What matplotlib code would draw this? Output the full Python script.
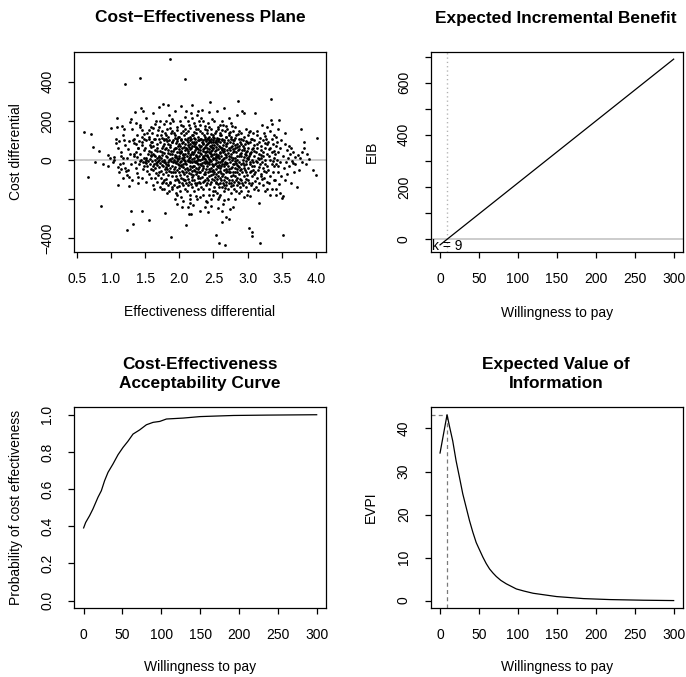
import matplotlib
matplotlib.use("Agg")
import matplotlib.pyplot as plt
import numpy as np

plt.rcParams['font.family'] = ['Liberation Sans', 'DejaVu Sans']

# Simulated (effectiveness, cost) differentials for the cost-effectiveness plane
ce_samples = [
    (0.60, 141), (0.67, -87), (0.71, 133), (0.74, 68), (0.76, -9), (0.83, 46), (0.86, -233), (0.89, -20), (0.95, 26), (0.96, -29), (0.98, 8),
    (1.00, 165), (1.03, -12), (1.05, -2), (1.08, 110), (1.09, 213), (1.09, 170), (1.10, -128), (1.07, 88), (1.04, 15), (1.10, -35),
    (1.11, 62), (1.12, 95), (1.13, -20), (1.14, 20), (1.15, -48), (1.16, 174), (1.17, 8), (1.18, -15), (1.18, 130), (1.19, 102), (1.12, -62), (1.14, 40), (1.17, -92), (1.19, 160),
    (1.20, 391), (1.21, 75), (1.22, -55), (1.23, -75), (1.24, -357), (1.25, -50), (1.26, -88), (1.27, -132), (1.28, 192), (1.28, 30), (1.29, 210), (1.21, -40), (1.23, 10), (1.25, 55), (1.27, 96), (1.29, -22),
    (1.30, -259), (1.31, -100), (1.32, -325), (1.32, 100), (1.33, 30), (1.34, 110), (1.35, 245), (1.35, -8), (1.36, 40), (1.36, 190), (1.37, 80), (1.37, -40), (1.38, 130), (1.38, 15), (1.39, 60), (1.39, -120), (1.31, 160), (1.33, 85), (1.34, 20), (1.38, -65),
    (1.40, 60), (1.40, -85), (1.41, 95), (1.41, -20), (1.42, 30), (1.42, -5), (1.43, 419), (1.43, 170), (1.44, 265), (1.44, 0), (1.45, -259), (1.45, -90), (1.45, 120), (1.46, 155), (1.46, 75), (1.47, 250), (1.47, -45), (1.48, 110), (1.48, 135), (1.48, 10), (1.49, 50), (1.49, -30), (1.43, 180), (1.46, 90), (1.47, -12),
    (1.50, 60), (1.50, -10), (1.51, -110), (1.51, 10), (1.52, 215), (1.52, 100), (1.53, -30), (1.53, 140), (1.54, -5), (1.54, 30), (1.55, -70), (1.55, 45), (1.56, -306), (1.56, 120), (1.57, 75), (1.57, -20), (1.57, 5), (1.58, 170), (1.58, -45), (1.58, 90), (1.59, 40), (1.59, -92), (1.59, 25), (1.55, 110), (1.52, -15), (1.56, 155), (1.58, 65), (1.53, -58), (1.51, 0), (1.59, 20),
    (1.60, 140), (1.60, -5), (1.60, 90), (1.61, 30), (1.61, -50), (1.62, -130), (1.62, 70), (1.62, 165), (1.63, -20), (1.63, 110), (1.63, 25), (1.64, -40), (1.64, 0), (1.64, 185), (1.65, 50), (1.65, -90), (1.65, 105), (1.66, -15), (1.66, 200), (1.66, -65), (1.67, 10), (1.67, 80), (1.67, -110), (1.68, 130), (1.68, -25), (1.68, 45), (1.69, 155), (1.69, -5), (1.69, -75), (1.61, 240), (1.63, -150), (1.65, 18), (1.67, 62), (1.68, -8), (1.62, -30),
    (1.70, -60), (1.70, 105), (1.70, 170), (1.71, 270), (1.71, -35), (1.71, 20), (1.72, 90), (1.72, -15), (1.72, -140), (1.73, 10), (1.73, 130), (1.73, -90), (1.74, 40), (1.74, -120), (1.74, 60), (1.75, 150), (1.75, -5), (1.75, -150), (1.76, 285), (1.76, 70), (1.76, -30), (1.77, -100), (1.77, 110), (1.77, 0), (1.78, -150), (1.78, -10), (1.78, 185), (1.79, -272), (1.79, 55), (1.79, -45),
    (1.71, -2), (1.72, 45), (1.73, -55), (1.74, 115), (1.75, 25), (1.76, -70), (1.77, 35), (1.78, 80), (1.79, 140), (1.70, 15), (1.72, 200), (1.74, -25), (1.76, -110), (1.78, 100), (1.79, -12),
    (1.80, 200), (1.80, 20), (1.80, -120), (1.81, -60), (1.81, 110), (1.81, -20), (1.82, 15), (1.82, 160), (1.82, -170), (1.83, -25), (1.83, 280), (1.83, 80), (1.84, -75), (1.84, 50), (1.84, 120), (1.85, -160), (1.85, 0), (1.85, 230), (1.86, -40), (1.86, 190), (1.86, 65), (1.87, 516), (1.87, -110), (1.87, 30), (1.88, -395), (1.88, -5), (1.88, 140), (1.89, 90), (1.89, -80), (1.89, -140),
    (1.80, 60), (1.81, -95), (1.82, -45), (1.83, 35), (1.84, -10), (1.85, 100), (1.86, -120), (1.87, 75), (1.88, 45), (1.89, 10), (1.81, 130), (1.83, -130), (1.85, -55), (1.86, 5), (1.87, 165), (1.88, -60), (1.89, 210), (1.84, -25), (1.82, 95), (1.80, -35),
    (1.90, 90), (1.90, -150), (1.90, 30), (1.91, 100), (1.91, -10), (1.91, -60), (1.92, 140), (1.92, -130), (1.92, 55), (1.93, -10), (1.93, 250), (1.93, -60), (1.94, 60), (1.94, 130), (1.94, -200), (1.95, -170), (1.95, 20), (1.95, 85), (1.96, 110), (1.96, 10), (1.96, -95), (1.97, -50), (1.97, 170), (1.97, 40), (1.98, -100), (1.98, 70), (1.98, -20), (1.99, 40), (1.99, 80), (1.99, -135),
    (1.90, -30), (1.91, 45), (1.92, 0), (1.93, 115), (1.94, -35), (1.95, -80), (1.96, 155), (1.97, -5), (1.98, 120), (1.99, -60), (1.91, 200), (1.93, 15), (1.95, 60), (1.97, 95), (1.99, -25), (1.92, -45), (1.94, 25), (1.96, -140), (1.98, 5), (1.90, 150), (1.93, -100), (1.95, -15), (1.97, -180), (1.99, 10), (1.96, -225),
    (2.00, -40), (2.00, 120), (2.00, 20), (2.01, -160), (2.01, 70), (2.01, -10), (2.02, 180), (2.02, 40), (2.02, -90), (2.03, -30), (2.03, 100), (2.03, 275), (2.04, -120), (2.04, 10), (2.04, 60), (2.05, 150), (2.05, -60), (2.05, -210), (2.06, 30), (2.06, -20), (2.06, 90), (2.07, -100), (2.07, 130), (2.07, 0), (2.08, 50), (2.08, -150), (2.08, 220), (2.085, 414), (2.09, -45), (2.09, 80),
    (2.00, 55), (2.01, -75), (2.02, 105), (2.03, -5), (2.04, -55), (2.05, 25), (2.06, -130), (2.07, 65), (2.08, -15), (2.09, 160), (2.00, -110), (2.01, 35), (2.02, -25), (2.03, 140), (2.04, 85), (2.05, -35), (2.06, 5), (2.07, -70), (2.08, 110), (2.09, -100), (2.01, 200), (2.03, 45), (2.05, -95), (2.07, 15), (2.09, 30), (2.02, -190), (2.04, -240), (2.06, 175), (2.08, -5), (2.10, -334),
    (2.10, 60), (2.10, -20), (2.10, 140), (2.11, -80), (2.11, 20), (2.11, 100), (2.12, -130), (2.12, 45), (2.12, -5), (2.13, 200), (2.13, -50), (2.13, 75), (2.14, -274), (2.14, 10), (2.14, -110), (2.15, 120), (2.15, -30), (2.15, -180), (2.16, 55), (2.16, -220), (2.16, 165), (2.17, -274), (2.17, 30), (2.17, -70), (2.18, 90), (2.18, 280), (2.18, -10), (2.19, -140), (2.19, 40), (2.19, 215),
    (2.10, -60), (2.11, -160), (2.12, 150), (2.13, 0), (2.14, 65), (2.15, 25), (2.16, -45), (2.17, 105), (2.18, -100), (2.19, 70), (2.10, -120), (2.11, 55), (2.12, 90), (2.13, -95), (2.14, 180), (2.15, -10), (2.16, 15), (2.17, -125), (2.18, 130), (2.19, -35), (2.11, -40), (2.13, 35), (2.15, 80), (2.17, 60), (2.19, 5), (2.12, -240), (2.14, -65), (2.16, -5), (2.18, -55), (2.10, 250), (2.13, 115), (2.15, -200), (2.17, 240), (2.19, -85), (2.16, 100),
    (2.20, -30), (2.20, 130), (2.20, 30), (2.21, -100), (2.21, 70), (2.21, 190), (2.22, -50), (2.22, 10), (2.22, -160), (2.23, 110), (2.23, -10), (2.23, 50), (2.24, -130), (2.24, 160), (2.24, -70), (2.25, 20), (2.25, 90), (2.25, -40), (2.26, -200), (2.26, 60), (2.26, 230), (2.27, -20), (2.27, 120), (2.27, -90), (2.28, 40), (2.28, -150), (2.28, 0), (2.29, 75), (2.29, -60), (2.29, 200),
    (2.20, 85), (2.21, -5), (2.22, 145), (2.23, -115), (2.24, 25), (2.25, -185), (2.26, -15), (2.27, 55), (2.28, 100), (2.29, -35), (2.20, -75), (2.21, 40), (2.22, -30), (2.23, 175), (2.24, -10), (2.25, 65), (2.26, -120), (2.27, 5), (2.28, -80), (2.29, 20), (2.21, 115), (2.23, -55), (2.25, 140), (2.27, -45), (2.29, -110), (2.22, 90), (2.24, 60), (2.26, 15), (2.28, 160), (2.20, -230), (2.23, 80), (2.25, -5), (2.27, 250), (2.29, 100), (2.26, -60),
    (2.30, -20), (2.30, 110), (2.30, 50), (2.31, -90), (2.31, 180), (2.31, 0), (2.32, 70), (2.32, -140), (2.32, 30), (2.33, -50), (2.33, 140), (2.33, 255), (2.34, -110), (2.34, 20), (2.34, 85), (2.35, -30), (2.35, 200), (2.35, -180), (2.36, 60), (2.36, -70), (2.36, 10), (2.37, 120), (2.37, -15), (2.37, -240), (2.38, 40), (2.38, -100), (2.38, 160), (2.39, -45), (2.39, 95), (2.39, -5),
    (2.30, -60), (2.31, 35), (2.32, -25), (2.33, 90), (2.34, -150), (2.35, 55), (2.36, 130), (2.37, 25), (2.38, -70), (2.39, 75), (2.30, 150), (2.31, -120), (2.32, 105), (2.33, 5), (2.34, -40), (2.35, 15), (2.36, -105), (2.37, 65), (2.38, 5), (2.39, -130), (2.31, 65), (2.33, -85), (2.35, 100), (2.37, -60), (2.39, 40), (2.30, -190), (2.32, 215), (2.34, 45), (2.36, -10), (2.38, 110), (2.31, -260), (2.33, -15), (2.35, 80), (2.37, 175), (2.39, -210),
    (2.40, 80), (2.40, -30), (2.40, 140), (2.41, -120), (2.41, 20), (2.41, 60), (2.42, -60), (2.42, 190), (2.42, -265), (2.43, 100), (2.43, -10), (2.43, 40), (2.44, -150), (2.44, 120), (2.44, -80), (2.45, 298), (2.45, 0), (2.45, 70), (2.46, -40), (2.46, 160), (2.46, -200), (2.47, 30), (2.47, -110), (2.47, 90), (2.48, -20), (2.48, 210), (2.48, 50), (2.49, -70), (2.49, 130), (2.49, 10),
    (2.40, -90), (2.41, 105), (2.42, 15), (2.43, -45), (2.44, 55), (2.45, -125), (2.46, 110), (2.47, -5), (2.48, 75), (2.49, -160), (2.40, 25), (2.41, -15), (2.42, 85), (2.43, 170), (2.44, 5), (2.45, -55), (2.46, 45), (2.47, 135), (2.48, -95), (2.49, 60), (2.40, 45), (2.42, -100), (2.44, -20), (2.46, 20), (2.48, -55),
    (2.41, 155), (2.43, -180), (2.45, 95), (2.47, 65), (2.49, -30), (2.40, -10), (2.42, 115), (2.44, 90), (2.46, -75), (2.48, 25), (2.41, -215), (2.43, 245), (2.45, 35), (2.47, -235), (2.49, 100),
    (2.50, 60), (2.50, -50), (2.50, 120), (2.51, -100), (2.51, 30), (2.51, 200), (2.52, -20), (2.52, 90), (2.52, -160), (2.53, -385), (2.53, 50), (2.53, -70), (2.54, 150), (2.54, 0), (2.54, -120), (2.55, 80), (2.55, -30), (2.55, 250), (2.56, -200), (2.56, 110), (2.56, 20), (2.57, -60), (2.57, 170), (2.57, -10), (2.58, -422), (2.58, 70), (2.58, -140), (2.59, 40), (2.59, -90), (2.59, 130),
    (2.50, 5), (2.51, -140), (2.52, 45), (2.53, 100), (2.54, -45), (2.55, 15), (2.56, -80), (2.57, 95), (2.58, -25), (2.59, 180), (2.50, -25), (2.51, 75), (2.52, 140), (2.53, -110), (2.54, 65), (2.55, -170), (2.56, 55), (2.57, 25), (2.58, 105), (2.59, -55), (2.50, 90), (2.52, -85), (2.54, 30), (2.56, -35), (2.58, 10),
    (2.51, -60), (2.53, 20), (2.55, 115), (2.57, -125), (2.59, 65), (2.50, -180), (2.52, 10), (2.54, 90), (2.56, 160), (2.58, -190), (2.51, 115), (2.53, -15), (2.55, -95), (2.57, -245), (2.59, -10),
    (2.60, 90), (2.60, -40), (2.60, -180), (2.61, 20), (2.61, 130), (2.61, -100), (2.62, -20), (2.62, 60), (2.62, -260), (2.63, -317), (2.63, 110), (2.63, 0), (2.64, -70), (2.64, 180), (2.64, 40), (2.65, 264), (2.65, -130), (2.65, 10), (2.66, -50), (2.66, 90), (2.66, -160), (2.67, -434), (2.67, 30), (2.67, 150), (2.68, -110), (2.68, 70), (2.68, -15), (2.69, -291), (2.69, 120), (2.69, -60),
    (2.60, 35), (2.61, -65), (2.62, 100), (2.63, -140), (2.64, 5), (2.65, 55), (2.66, -30), (2.67, -85), (2.68, 25), (2.69, 80), (2.60, -120), (2.61, 60), (2.62, -5), (2.63, 155), (2.64, -115), (2.65, -20), (2.66, 45), (2.67, -145), (2.68, 175), (2.69, 15),
    (2.60, 140), (2.62, -80), (2.64, 75), (2.66, -205), (2.68, -45), (2.61, -30), (2.63, 50), (2.65, 100), (2.67, -10), (2.69, -130), (2.62, 200), (2.64, -225), (2.66, -100), (2.68, 120), (2.69, -20),
    (2.70, 50), (2.70, -90), (2.70, 160), (2.71, -30), (2.71, 100), (2.71, -150), (2.72, -300), (2.72, 20), (2.72, -60), (2.73, 140), (2.73, -120), (2.73, 60), (2.74, -10), (2.74, -250), (2.74, 90), (2.75, -80), (2.75, 30), (2.75, 190), (2.76, -40), (2.76, 120), (2.76, -170), (2.77, 70), (2.77, -100), (2.77, 0), (2.78, 150), (2.78, -60), (2.78, -240), (2.79, 40), (2.79, -130), (2.79, 100),
    (2.70, -15), (2.71, 35), (2.72, 130), (2.73, -45), (2.74, 50), (2.75, -135), (2.76, 15), (2.77, 175), (2.78, -20), (2.79, -75), (2.70, 85), (2.72, -100), (2.74, -60), (2.76, 65), (2.78, 10), (2.71, -200), (2.73, 5), (2.75, 110), (2.77, -35), (2.79, 55), (2.70, -55), (2.72, 215), (2.74, 145), (2.76, -120), (2.78, 85),
    (2.80, -20), (2.80, 100), (2.80, -150), (2.81, 60), (2.81, -80), (2.81, 170), (2.82, -40), (2.82, 10), (2.82, -200), (2.83, 130), (2.83, -100), (2.83, 40), (2.84, -60), (2.84, 80), (2.84, -130), (2.85, 0), (2.85, 230), (2.85, -90), (2.86, 301), (2.86, 50), (2.86, -30), (2.87, -120), (2.87, 110), (2.87, 20), (2.88, -70), (2.88, -170), (2.88, 150), (2.89, 30), (2.89, -50), (2.89, 90),
    (2.80, 45), (2.81, -5), (2.82, 115), (2.83, -160), (2.84, 20), (2.85, 65), (2.86, -110), (2.87, -10), (2.88, 70), (2.89, -140), (2.80, -110), (2.82, 75), (2.84, -25), (2.86, 135), (2.88, -35), (2.81, -60), (2.83, -15), (2.85, -45), (2.87, 55), (2.89, -95),
    (2.90, 80), (2.90, -100), (2.90, -20), (2.91, 140), (2.91, 20), (2.91, -160), (2.92, 250), (2.92, -60), (2.92, 50), (2.93, -130), (2.93, 100), (2.93, 0), (2.94, 243), (2.94, -80), (2.94, 60), (2.95, -40), (2.95, -190), (2.95, 120), (2.96, 30), (2.96, -110), (2.96, 80), (2.97, -20), (2.97, -60), (2.97, 160), (2.98, 40), (2.98, -140), (2.98, -5), (2.99, 90), (2.99, -75), (2.99, 10),
    (2.90, 35), (2.91, -45), (2.92, -120), (2.93, 70), (2.94, -25), (2.95, 15), (2.96, -50), (2.97, 95), (2.98, -95), (2.99, -180), (2.91, 110), (2.93, -15), (2.95, 50), (2.97, 25), (2.99, 45),
    (3.00, 60), (3.00, -40), (3.01, 130), (3.01, -100), (3.02, -346), (3.02, 20), (3.03, -60), (3.03, 90), (3.04, 150), (3.04, -20), (3.05, -130), (3.05, 40), (3.06, 0), (3.06, -80), (3.07, -368), (3.07, -388), (3.07, 110), (3.08, -50), (3.08, 60), (3.09, -150), (3.09, 20),
    (3.00, 5), (3.01, 85), (3.02, -115), (3.03, -10), (3.04, -185), (3.05, 105), (3.06, 55), (3.07, -30), (3.08, 140), (3.09, -70), (3.00, -160), (3.02, 145), (3.04, 30), (3.06, -120), (3.08, -10), (3.01, 10), (3.03, 35), (3.05, -55), (3.09, 75),
    (3.10, -30), (3.10, 100), (3.11, 242), (3.11, -60), (3.12, 40), (3.12, -140), (3.13, -10), (3.13, 130), (3.14, -90), (3.14, 60), (3.15, 10), (3.15, -50), (3.16, -221), (3.16, 90), (3.17, -120), (3.17, 30), (3.18, -422), (3.18, -20), (3.19, 70), (3.19, -80),
    (3.10, 45), (3.12, -5), (3.14, 150), (3.16, -35), (3.18, 115), (3.11, -105), (3.13, 80), (3.15, -155), (3.17, 5), (3.19, 25),
    (3.20, 50), (3.20, -70), (3.21, 180), (3.21, -10), (3.22, -130), (3.22, 100), (3.23, 20), (3.23, -40), (3.24, 140), (3.24, -90), (3.25, 60), (3.25, -20), (3.26, -160), (3.26, 0), (3.27, 110), (3.27, -60), (3.28, 30), (3.28, -110), (3.29, 80), (3.29, -30),
    (3.20, 10), (3.22, 40), (3.24, -55), (3.26, 85), (3.28, 170), (3.21, -95), (3.25, 125), (3.29, -150),
    (3.30, 90), (3.30, -50), (3.31, 20), (3.31, -120), (3.32, 150), (3.32, 0), (3.33, -80), (3.33, 60), (3.34, 311), (3.34, 204), (3.35, -20), (3.35, 110), (3.36, -150), (3.36, 40), (3.37, -60), (3.37, 80), (3.38, 10), (3.38, -100), (3.39, 130), (3.39, -30),
    (3.31, 55), (3.33, -180), (3.35, 185), (3.37, -5), (3.39, 45),
    (3.40, 30), (3.40, -100), (3.41, 120), (3.41, -20), (3.42, 70), (3.42, -150), (3.43, 0), (3.43, 90), (3.44, -60), (3.44, 160), (3.45, 40), (3.45, -30), (3.46, -123), (3.46, 204), (3.47, -170), (3.47, 60), (3.48, -10), (3.49, 100), (3.49, -80), (3.41, -180),
    (3.50, -196), (3.51, -385), (3.52, -182), (3.52, 20), (3.53, -40), (3.54, 82), (3.55, 140), (3.56, -10), (3.57, 50), (3.58, -71), (3.59, 10), (3.55, -100),
    (3.60, 70), (3.61, -30), (3.62, 30), (3.63, -120), (3.64, 60), (3.65, -5), (3.66, -17), (3.67, 40), (3.68, -60), (3.69, 15),
    (3.70, -20), (3.72, -140), (3.73, 25), (3.75, -50), (3.76, 10), (3.78, 157), (3.79, 40),
    (3.80, -10), (3.82, 60), (3.83, 90), (3.85, -20), (3.87, 30), (3.90, 5), (3.95, -51), (4.00, -78), (4.01, 112),
]
delta_e = np.array([p[0] for p in ce_samples])
delta_c = np.array([p[1] for p in ce_samples])

# Expected incremental benefit (linear in willingness to pay)
eib_wtp = [0, 300]
eib_values = [-21.3, 690.0]
breakeven_k = 9

# Cost-effectiveness acceptability curve
ceac_wtp = [0, 2.6, 7.7, 12, 18.5, 22.8, 27, 31.4, 37.8, 44.3, 50.7, 57, 63.6, 72, 80.8, 89.4,
            98, 106.6, 128, 150, 171, 193, 236, 300]
ceac_prob = [0.391, 0.42, 0.457, 0.493, 0.556, 0.591, 0.645, 0.69, 0.735, 0.785, 0.824, 0.857,
             0.896, 0.918, 0.946, 0.959, 0.964, 0.977, 0.982, 0.99, 0.993, 0.996, 0.998, 1.0]

# Expected value of perfect information
evpi_wtp = [0, 9, 12, 16.3, 20.6, 25, 29.2, 33.5, 37.8, 42.1, 46.4, 49.4, 55, 59.3, 63.6, 68,
            72.2, 78, 85, 98, 108, 119.5, 149.6, 184, 218, 261, 300]
evpi_values = [34.3, 43.2, 40.6, 37.1, 32.5, 28.6, 24.8, 21.7, 18.6, 15.9, 13.5, 12.3, 10.1,
               8.6, 7.35, 6.4, 5.6, 4.7, 3.9, 2.7, 2.2, 1.7, 0.93, 0.46, 0.23, 0.08, 0.0]

W, H = 686, 677
fig = plt.figure(figsize=(W / 100, H / 100), dpi=100)

FS = 10
TITLE_FS = 12.4
LW = 0.9


def add_panel(left, top, right, bottom):
    ax = fig.add_axes([left / W, 1 - bottom / H, (right - left) / W, (bottom - top) / H])
    for s in ax.spines.values():
        s.set_linewidth(LW)
    ax.tick_params(direction='out', length=4.3, width=LW, pad=10, labelsize=FS,
                   top=False, right=False)
    return ax


def padded(lo, hi, frac=0.04):
    span = hi - lo
    return lo - frac * span, hi + frac * span


def fig_text(x, y, s, **kw):
    fig.text(x / W, 1 - y / H, s, ha='center', va='center', **kw)


def finish_yticks(ax):
    for lab in ax.get_yticklabels():
        lab.set_va('center')
        lab.set_rotation(90)


WTP_TICKS = [0, 50, 100, 150, 200, 250, 300]

# --- Cost-effectiveness plane ---
ax1 = add_panel(74.3, 51.7, 326, 252.3)
ax1.axhline(0, color='#bebebe', lw=1.1, zorder=1)
ax1.plot(delta_e, delta_c, 'o', ms=2.0, mew=0, color='black', zorder=2)
ax1.set_xlim(*padded(delta_e.min(), delta_e.max()))
ax1.set_ylim(*padded(delta_c.min(), delta_c.max()))
ax1.set_xticks([0.5, 1.0, 1.5, 2.0, 2.5, 3.0, 3.5, 4.0])
ax1.set_xticklabels(['0.5', '1.0', '1.5', '2.0', '2.5', '3.0', '3.5', '4.0'])
ax1.set_yticks([-400, -200, 0, 200, 400])
ax1.set_yticklabels(['\u2212400', '', '0', '200', '400'])
finish_yticks(ax1)
fig_text(200, 18, 'Cost\u2212Effectiveness Plane', fontsize=TITLE_FS, fontweight='bold')
fig_text(200, 312, 'Effectiveness differential', fontsize=FS)
fig_text(16, 152, 'Cost differential', fontsize=FS, rotation=90)

# --- Expected incremental benefit ---
ax2 = add_panel(430.7, 51.7, 683, 252.3)
ax2.set_xlim(*padded(min(eib_wtp), max(eib_wtp)))
ax2.set_ylim(*padded(min(eib_values), max(eib_values)))
ax2.axhline(0, color='#bebebe', lw=1.1, zorder=1)
ax2.axvline(breakeven_k, color='#b0b0b0', lw=1.0, ls=(0, (0.9, 2.2)), zorder=1)
ax2.plot(eib_wtp, eib_values, color='black', lw=LW, zorder=2)
ax2.set_xticks(WTP_TICKS)
ax2.set_yticks([0, 100, 200, 300, 400, 500, 600, 700])
ax2.set_yticklabels(['0', '', '200', '', '400', '', '600', ''])
finish_yticks(ax2)
ylo = ax2.get_ylim()[0]
ax2.text(ax2.get_xlim()[0] + 1.5, ylo * 0.5, 'k = %d' % breakeven_k, fontsize=FS,
         ha='left', va='center', zorder=3)
fig_text(556, 18, 'Expected Incremental Benefit', fontsize=TITLE_FS, fontweight='bold')
fig_text(557, 313, 'Willingness to pay', fontsize=FS)
fig_text(372, 152, 'EIB', fontsize=FS, rotation=90)

# --- Cost-effectiveness acceptability curve ---
ax3 = add_panel(74.3, 407.3, 326, 608)
ax3.plot(ceac_wtp, ceac_prob, color='black', lw=LW)
ax3.set_xlim(*padded(min(ceac_wtp), max(ceac_wtp)))
ax3.set_ylim(*padded(0, 1))
ax3.set_xticks(WTP_TICKS)
ax3.set_yticks([0, 0.2, 0.4, 0.6, 0.8, 1.0])
ax3.set_yticklabels(['0.0', '0.2', '0.4', '0.6', '0.8', '1.0'])
finish_yticks(ax3)
fig_text(200, 374, 'Cost-Effectiveness\nAcceptability Curve', fontsize=TITLE_FS,
         fontweight='bold', linespacing=1.38)
fig_text(200, 667, 'Willingness to pay', fontsize=FS)
fig_text(16, 507.5, 'Probability of cost effectiveness', fontsize=FS, rotation=90)

# --- Expected value of information ---
ax4 = add_panel(430.7, 407.3, 683, 608)
xlo, xhi = padded(min(evpi_wtp), max(evpi_wtp))
ylo, yhi = padded(min(evpi_values), max(evpi_values))
ax4.set_xlim(xlo, xhi)
ax4.set_ylim(ylo, yhi)
i_max = int(np.argmax(evpi_values))
k_max, v_max = evpi_wtp[i_max], evpi_values[i_max]
ax4.plot([k_max, k_max], [ylo, v_max], color='#7a7a7a', lw=0.9, ls=(0, (3.2, 2.6)))
ax4.plot([xlo, k_max], [v_max, v_max], color='#7a7a7a', lw=0.9, ls=(0, (3.2, 2.6)))
ax4.plot(evpi_wtp, evpi_values, color='black', lw=LW)
ax4.set_xticks(WTP_TICKS)
ax4.set_yticks([0, 10, 20, 30, 40])
finish_yticks(ax4)
fig_text(556, 374, 'Expected Value of\nInformation', fontsize=TITLE_FS,
         fontweight='bold', linespacing=1.38)
fig_text(557, 667, 'Willingness to pay', fontsize=FS)
fig_text(371, 507.5, 'EVPI', fontsize=FS, rotation=90)

fig.savefig('out.png', dpi=100)
